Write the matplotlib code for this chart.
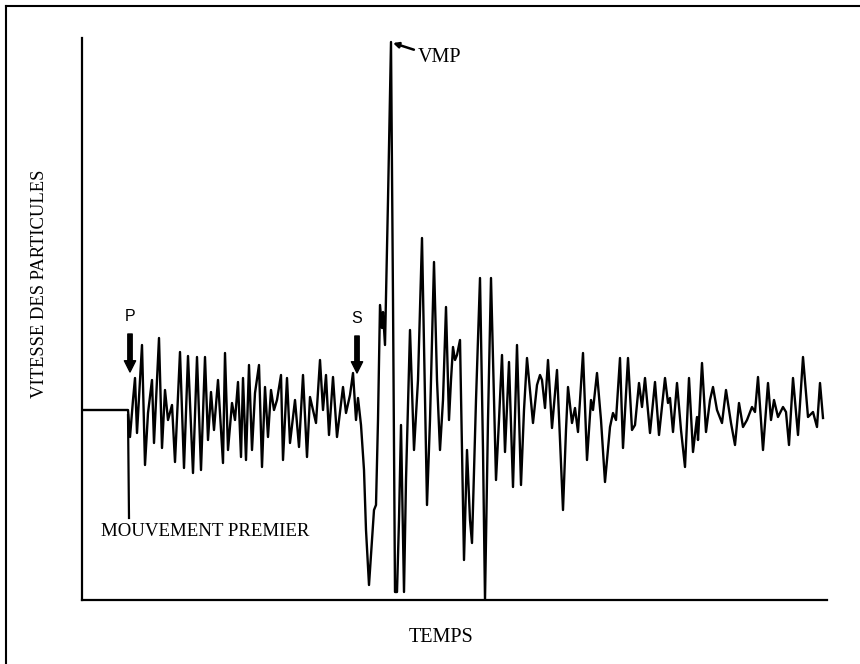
import numpy as np
import matplotlib
matplotlib.use("Agg")
import matplotlib.pyplot as plt
from matplotlib.lines import Line2D

# Seismogram trace: particle velocity versus time (arbitrary units)
# Quiet record before the first arrival
t_pre = [0, 46]
v_pre = [0, 0]

# P-wave train
t_p = [48, 51, 53, 55, 60, 63, 66, 70, 72, 77, 80, 83, 86, 90, 93, 98, 102, 106,
       111, 115, 119, 123, 126, 129, 132, 136, 141, 143, 146, 150, 153, 156, 159,
       161, 164, 167, 170, 173, 177, 180, 183, 186, 189, 192, 195, 199, 201, 205,
       208, 213, 217, 221, 225, 228, 231, 234, 238, 241, 244, 247, 251, 255, 261,
       264, 268]
v_p = [-27, 10, 32, -23, 65, -55, -3, 30, -33, 72, -38, 20, -10, 5, -52, 58, -58, 54,
       -63, 53, -60, 53, -30, 18, -20, 30, -53, 57, -40, 7, -10, 28, -47,
       32, -50, 45, -40, 17, 45, -57, 23, -27, 20, 0, 10, 35, -50, 32,
       -33, 10, -37, 35, -47, 13, 0, -13, 50, 0, 35, -25, 33, -27, 23,
       -3, 15]

# S-wave arrival and main shaking
t_s = [271, 274, 276, 279, 282, 284, 287, 290, 292, 294, 296, 298, 300, 301, 303,
       306, 309, 311, 313, 315, 317, 319, 321, 322, 324, 328, 332, 336, 340, 343,
       345, 348, 352, 355, 358, 361, 364, 367, 369, 371, 373, 375, 378, 380, 382,
       385, 388, 390, 394, 398, 401, 403, 406, 409, 412, 414, 417, 420, 423, 427,
       431, 435, 439]
v_s = [37, -10, 12, -15, -60, -120, -175, -130, -100, -95, -10, 105, 82, 98, 65,
       210, 368, 110, -182, -182, -110, -15, -130, -182, -70, 80, -40, 30, 172, 10,
       -95, -10, 148, 30, -40, 10, 103, -10, 30, 63, 50, 55, 70, -40, -150,
       -40, -110, -133, 10, 132, -40, -190, -10, 132, 10, -70, -10, 55, -42, 48,
       -77, 65, -75]

# Coda
t_coda = [442, 445, 448, 451, 455, 458, 460, 463, 466, 470, 475, 478, 481, 484, 486,
          490, 493, 496, 501, 505, 509, 511, 515, 519, 523, 528, 531, 534, 538, 541,
          546, 550, 553, 557, 560, 563, 568, 573, 577, 583, 586, 588, 591, 595, 599,
          603, 607, 611, 615, 616, 620, 624, 628, 631, 635, 640, 644, 649, 653, 657,
          661, 665, 670, 673, 676, 681, 686, 689, 692, 696, 701, 704, 707, 711, 716,
          721, 726, 731, 735, 738, 741]
v_coda = [0, 52, 20, -13, 25, 35, 30, 2, 50, -18, 40, -30, -100, -20, 23,
          -13, 2, -22, 57, -50, 10, 0, 37, -10, -72, -17, -3, -10, 52, -38,
          52, -20, -15, 27, 3, 32, -23, 28, -25, 32, 7, 12, -22, 27, -20,
          -57, 32, -42, -7, -30, 47, -22, 10, 23, 0, -13, 20, -13, -35, 7,
          -17, -10, 3, -2, 33, -40, 27, -10, 10, -7, 3, -2, -35, 32, -25,
          53, -7, -2, -17, 27, -8]

t = np.array(t_pre + t_p + t_s + t_coda, dtype=float)
v = np.array(v_pre + v_p + v_s + v_coda, dtype=float)

serif = ["Liberation Serif", "DejaVu Serif"]
sans = ["Liberation Sans", "DejaVu Sans"]

fig = plt.figure(figsize=(8.6, 6.64), dpi=100)
ax = fig.add_axes([82 / 860, 64 / 664, 745 / 860, 562 / 664])

ax.plot(t, v, color="black", lw=1.7, solid_joinstyle="round")

ax.set_xlim(0, 745)
ax.set_ylim(-190, 372)
ax.set_xticks([])
ax.set_yticks([])
for side in ("top", "right"):
    ax.spines[side].set_visible(False)
for side in ("left", "bottom"):
    ax.spines[side].set_linewidth(1.6)
    ax.spines[side].set_color("black")

# Phase markers
arrow_kw = dict(arrowstyle="simple,head_width=0.9,head_length=0.9,tail_width=0.35",
                color="black", shrinkA=0, shrinkB=0, mutation_scale=9)
ax.annotate("", xy=(48, 38), xytext=(48, 76), arrowprops=arrow_kw)
ax.text(48, 86, "P", ha="center", va="bottom", family=sans, fontsize=11.5)
ax.annotate("", xy=(275, 37), xytext=(275, 74), arrowprops=arrow_kw)
ax.text(275, 84, "S", ha="center", va="bottom", family=sans, fontsize=11.5)

# Peak particle velocity
ax.annotate("VMP", xy=(311, 367), xytext=(336, 352), ha="left", va="center",
            family=serif, fontsize=14.5,
            arrowprops=dict(arrowstyle="-|>", color="black", lw=1.8,
                            mutation_scale=8, shrinkA=1, shrinkB=0))

# First motion
ax.plot([46, 47], [-5, -108], color="black", lw=1.6)
ax.text(19, -121, "MOUVEMENT PREMIER", ha="left", va="center",
        family=serif, fontsize=13.6)

fig.text(40 / 860, 1 - 284 / 664, "VITESSE DES PARTICULES", rotation=90,
         ha="center", va="center", family=serif, fontsize=13.4)
fig.text(441 / 860, 1 - 637 / 664, "TEMPS", ha="center", va="center",
         family=serif, fontsize=14.5)

# Outer frame
fig.add_artist(Line2D([6 / 860, 6 / 860], [0, 1 - 6 / 664], color="black", lw=1.5,
                      transform=fig.transFigure))
fig.add_artist(Line2D([6 / 860, 1], [1 - 6 / 664, 1 - 6 / 664], color="black", lw=1.5,
                      transform=fig.transFigure))

fig.savefig("out.png", dpi=100)
